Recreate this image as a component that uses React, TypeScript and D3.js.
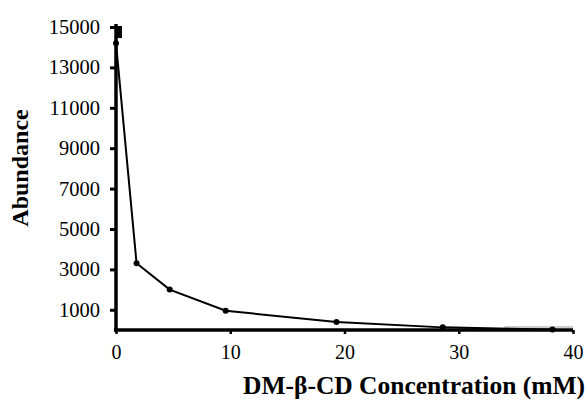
import React, { useEffect, useRef } from 'react';
import * as d3 from 'd3';

const concentration = [0, 1.8, 4.7, 9.6, 19.3, 28.6, 38.2];
const abundance = [14200, 3300, 2000, 950, 400, 130, 20];
const topMark = [0, 14850];
const yTicks = [1000, 3000, 5000, 7000, 9000, 11000, 13000, 15000];
const xTicks = [0, 10, 20, 30, 40];

export default function App() {
  const ref = useRef<SVGSVGElement>(null);

  useEffect(() => {
    const svg = d3.select(ref.current);
    svg.selectAll('*').remove();

    const x = d3.scaleLinear().domain([0, 40]).range([116, 573]);
    const y = d3.scaleLinear().domain([0, 15000]).range([330, 27]);

    svg.append('rect').attr('width', 587).attr('height', 404).attr('fill', '#fff');

    // y axis
    const yG = svg.append('g').attr('transform', 'translate(116,0)')
      .call(d3.axisLeft(y).tickValues(yTicks).tickSize(6).tickSizeOuter(0).tickFormat(d3.format('d')));
    yG.select('.domain').remove();
    yG.selectAll('line').attr('stroke', '#000').attr('stroke-width', 3);
    yG.selectAll('text')
      .attr('font-family', '"Liberation Serif", serif')
      .attr('font-size', 20.5)
      .attr('fill', '#000')
      .attr('x', -16);

    // x axis
    const xG = svg.append('g').attr('transform', 'translate(0,330)')
      .call(d3.axisBottom(x).tickValues(xTicks).tickSize(4).tickSizeOuter(0));
    xG.select('.domain').remove();
    xG.selectAll('line').attr('stroke', '#000').attr('stroke-width', 2.5);
    xG.selectAll('text')
      .attr('font-family', '"Liberation Serif", serif')
      .attr('font-size', 20)
      .attr('fill', '#000')
      .attr('y', 15);

    // axis lines
    svg.append('line').attr('x1', x(0)).attr('x2', x(0)).attr('y1', 24).attr('y2', 332)
      .attr('stroke', '#000').attr('stroke-width', 3.5);
    svg.append('line').attr('x1', x(0) - 2).attr('x2', x(40)).attr('y1', y(0)).attr('y2', y(0))
      .attr('stroke', '#000').attr('stroke-width', 3.5);
    svg.append('line').attr('x1', x(34)).attr('x2', x(40)).attr('y1', y(0) - 3).attr('y2', y(0) - 3)
      .attr('stroke', '#999').attr('stroke-width', 1);

    const pts = concentration.map((c, i) => [c, abundance[i]] as [number, number]);
    const line = d3.line<[number, number]>().x(d => x(d[0])).y(d => y(d[1]));

    svg.append('path').datum([topMark as [number, number], ...pts]).attr('d', line)
      .attr('fill', 'none').attr('stroke', '#000').attr('stroke-width', 2);

    svg.selectAll('circle.pt').data(pts).enter().append('circle')
      .attr('class', 'pt')
      .attr('cx', d => x(d[0])).attr('cy', d => y(d[1])).attr('r', 3)
      .attr('fill', '#000');

    svg.append('rect')
      .attr('x', x(topMark[0]) - 1).attr('y', y(topMark[1]) - 4)
      .attr('width', 7).attr('height', 12).attr('fill', '#000');

    // titles
    svg.append('text')
      .attr('x', 414).attr('y', 394)
      .attr('text-anchor', 'middle')
      .attr('font-family', '"Liberation Serif", serif')
      .attr('font-weight', 'bold')
      .attr('font-size', 25.5)
      .text('DM-β-CD Concentration (mM)');

    svg.append('text')
      .attr('transform', 'translate(28,168) rotate(-90)')
      .attr('text-anchor', 'middle')
      .attr('font-family', '"Liberation Serif", serif')
      .attr('font-weight', 'bold')
      .attr('font-size', 24)
      .text('Abundance');
  }, []);

  return (
    <svg ref={ref} width={587} height={404} style={{ position: 'absolute', left: 0, top: 0 }} />
  );
}
